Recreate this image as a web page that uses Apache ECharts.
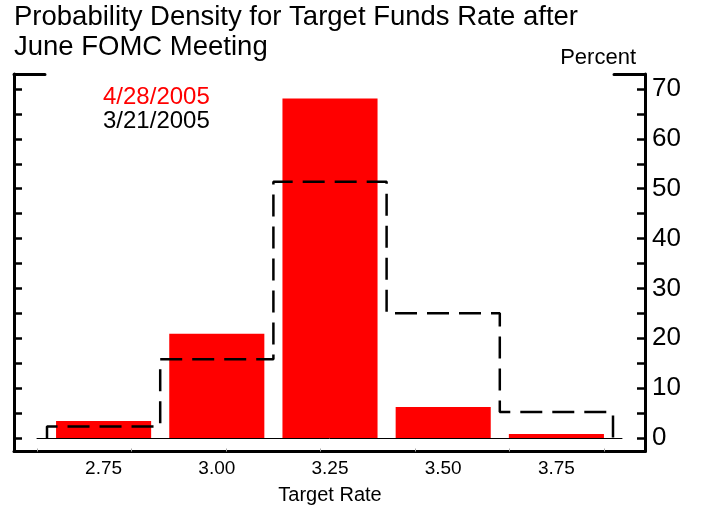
<!DOCTYPE html>
<html>
<head>
    <meta charset="utf-8">
    <title>Target Funds Rate</title>
    <script src="https://cdn.jsdelivr.net/npm/echarts@6/dist/echarts.min.js"></script>
</head>
<body style="margin:0">
<div id="main" style="width: 705px;height:507px;"></div>
<script type="text/javascript">
    // target rates
    var rates = ['2.75', '3.00', '3.25', '3.50', '3.75'];
    // 4/28/2005 probabilities (bars)
    var probApr = [3.4, 20.9, 68.1, 6.2, 0.8];
    // 3/21/2005 probabilities (dashed step)
    var probMar = [2.3, 15.8, 51.4, 25.0, 5.2];
    var minorTicks = [0, 5, 10, 15, 20, 25, 30, 35, 40, 45, 50, 55, 60, 65, 70];
    var majorTicks = [0, 10, 20, 30, 40, 50, 60, 70];

    var font = 'Liberation Sans, Arial, sans-serif';
    var yMin = -2.7, yMax = 73;

    // step outline built from the March values
    var stepData = [[0, 0]];
    for (var i = 0; i < probMar.length; i++) {
        stepData.push([i, probMar[i]]);
        stepData.push([i + 1, probMar[i]]);
    }
    stepData.push([probMar.length, 0]);

    function hiddenY(grid) {
        return {gridIndex: grid, type: 'value', min: yMin, max: yMax, show: false};
    }

    var myChart = echarts.init(document.getElementById('main'));

    var option = {
        animation: false,
        textStyle: {fontFamily: font},
        title: [{
            text: 'Probability Density for Target Funds Rate after\nJune FOMC Meeting',
            left: 14,
            top: 2,
            padding: 0,
            textStyle: {color: '#000', fontSize: 27.5, lineHeight: 30, fontWeight: 'normal', fontFamily: font}
        }, {
            text: 'Percent',
            right: 69,
            top: 47,
            padding: 0,
            textStyle: {color: '#000', fontSize: 22, fontWeight: 'normal', fontFamily: font}
        }],
        legend: {
            left: 98,
            top: 85,
            padding: 0,
            orient: 'vertical',
            icon: 'none',
            itemWidth: 0,
            itemGap: 0,
            selectedMode: false,
            textStyle: {fontSize: 24, lineHeight: 20, fontFamily: font},
            data: [
                {name: '4/28/2005', textStyle: {color: '#ff0000'}},
                {name: '3/21/2005', textStyle: {color: '#000'}}
            ]
        },
        grid: [
            {left: 14, right: 60, top: 74, bottom: 55.5, outerBoundsMode: 'none'},   // frame
            {left: 47, right: 92, top: 74, bottom: 55.5, outerBoundsMode: 'none'},   // bars
            {left: 37, right: 83, top: 74, bottom: 69, outerBoundsMode: 'none'},     // zero line
            {left: 37, right: 101, top: 74, bottom: 55.5, outerBoundsMode: 'none'}   // faint bottom ticks
        ],
        xAxis: [{
            gridIndex: 0, type: 'value', min: 0, max: 1, position: 'bottom',
            axisLine: {show: true, onZero: false, lineStyle: {color: '#000', width: 3}},
            axisTick: {show: false}, axisLabel: {show: false}, splitLine: {show: false}
        }, {
            gridIndex: 0, type: 'value', min: 0, max: 1, position: 'top',
            axisLine: {show: true, onZero: false, lineStyle: {color: '#000', width: 3, type: [31, 569]}},
            axisTick: {show: false}, axisLabel: {show: false}, splitLine: {show: false}
        }, {
            gridIndex: 1, type: 'category', data: rates, position: 'bottom',
            axisLine: {show: false, onZero: false}, axisTick: {show: false},
            axisLabel: {color: '#000', fontSize: 19, margin: 8},
            name: 'Target Rate', nameLocation: 'middle', nameGap: 34,
            nameTextStyle: {color: '#000', fontSize: 20}
        }, {
            gridIndex: 1, type: 'value', min: 0, max: rates.length, show: false
        }, {
            gridIndex: 2, type: 'value', min: 0, max: 1, position: 'bottom',
            axisLine: {show: true, onZero: false, lineStyle: {color: '#000', width: 1}},
            axisTick: {show: false}, axisLabel: {show: false}, splitLine: {show: false}
        }, {
            gridIndex: 3, type: 'value', min: 0, max: 6, interval: 1, position: 'bottom',
            axisLine: {show: false, onZero: false},
            axisTick: {show: true, inside: true, length: 3, lineStyle: {color: '#aaa', width: 1}},
            axisLabel: {show: false}, splitLine: {show: false}
        }],
        yAxis: [{
            gridIndex: 0, type: 'value', min: yMin, max: yMax, position: 'left',
            axisLine: {show: true, onZero: false, lineStyle: {color: '#000', width: 3}},
            axisTick: {show: true, inside: true, length: 8, customValues: minorTicks, lineStyle: {color: '#000', width: 2.5}},
            axisLabel: {show: false}, splitLine: {show: false}
        }, {
            gridIndex: 0, type: 'value', min: yMin, max: yMax, position: 'right',
            axisLine: {show: true, onZero: false, lineStyle: {color: '#000', width: 3}},
            axisTick: {show: true, inside: true, length: 8, customValues: minorTicks, lineStyle: {color: '#000', width: 2.5}},
            axisLabel: {show: true, customValues: majorTicks, color: '#000', fontSize: 26, margin: 7},
            splitLine: {show: false}
        }, hiddenY(1), hiddenY(2), hiddenY(3)],
        series: [{
            name: '4/28/2005',
            type: 'bar',
            xAxisIndex: 2,
            yAxisIndex: 2,
            barCategoryGap: '16%',
            itemStyle: {color: '#ff0000'},
            data: probApr
        }, {
            name: '3/21/2005',
            type: 'line',
            xAxisIndex: 3,
            yAxisIndex: 2,
            symbol: 'none',
            z: 5,
            lineStyle: {color: '#000', width: 2.5, type: [22, 10]},
            itemStyle: {color: '#000'},
            data: stepData
        }]
    };
    myChart.setOption(option);
</script>
</body>
</html>
